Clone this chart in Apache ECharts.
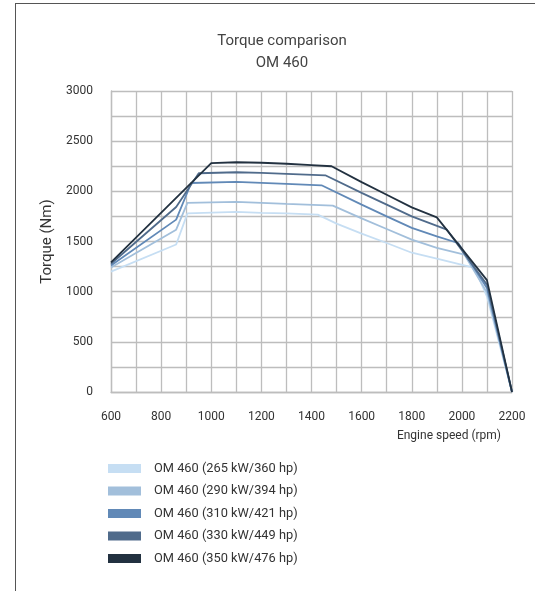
<!DOCTYPE html>
<html>
<head>
<meta charset="utf-8">
<script src="https://cdn.jsdelivr.net/npm/echarts@6/dist/echarts.min.js"></script>
<style>
html,body{margin:0;padding:0;background:#fff;}
#frame{position:absolute;left:15px;top:3px;width:530px;height:600px;border-top:1.5px solid #555;border-left:1.5px solid #555;}
#chart{position:absolute;left:0;top:0;width:535px;height:591px;}
</style>
</head>
<body>
<div id="frame"></div>
<div id="chart"></div>
<script>
const seriesNames = [
  'OM 460 (265 kW/360 hp)',
  'OM 460 (290 kW/394 hp)',
  'OM 460 (310 kW/421 hp)',
  'OM 460 (330 kW/449 hp)',
  'OM 460 (350 kW/476 hp)'
];
const colors = ['#c6def3', '#a2bfdb', '#6189b7', '#506b8b', '#223140'];

const rpm265 = [600, 860, 905, 1100, 1200, 1300, 1425, 1500, 1600, 1700, 1800, 1900, 2050, 2100, 2200];
const nm265  = [1200, 1470, 1780, 1795, 1785, 1780, 1768, 1678, 1579, 1485, 1388, 1329, 1236, 953, 0];

const rpm290 = [600, 860, 905, 1100, 1200, 1300, 1485, 1600, 1700, 1800, 1900, 2010, 2100, 2200];
const nm290  = [1240, 1618, 1884, 1895, 1885, 1875, 1857, 1731, 1625, 1518, 1436, 1369, 993, 0];

const rpm310 = [600, 860, 920, 1100, 1200, 1300, 1440, 1600, 1700, 1800, 1900, 1985, 2100, 2200];
const nm310  = [1260, 1718, 2083, 2095, 2085, 2075, 2060, 1868, 1751, 1636, 1551, 1485, 1037, 0];

const rpm330 = [600, 860, 950, 1100, 1200, 1300, 1455, 1600, 1700, 1800, 1940, 2100, 2200];
const nm330  = [1278, 1844, 2180, 2190, 2183, 2175, 2160, 1985, 1868, 1750, 1618, 1070, 0];

const rpm350 = [600, 1000, 1100, 1200, 1300, 1400, 1480, 1600, 1700, 1800, 1900, 2100, 2200];
const nm350  = [1292, 2282, 2290, 2285, 2275, 2262, 2250, 2092, 1966, 1840, 1740, 1115, 0];

const rpmSets = [rpm265, rpm290, rpm310, rpm330, rpm350];
const nmSets = [nm265, nm290, nm310, nm330, nm350];

const zip = (xs, ys) => xs.map((x, i) => [x, ys[i]]);
const font = 'Roboto, "Liberation Sans", sans-serif';
const gridLine = { show: true, lineStyle: { color: '#bdbdbd', width: 1.3 } };
const plain = v => String(v);

const chart = echarts.init(document.getElementById('chart'));
chart.setOption({
  animation: false,
  title: {
    text: 'Torque comparison\nOM 460',
    left: 277, top: 25, textAlign: 'center',
    textStyle: { fontFamily: font, fontSize: 15, fontWeight: 'normal', color: '#444', lineHeight: 22 }
  },
  legend: {
    orient: 'vertical', left: 108, top: 462, padding: 0,
    itemWidth: 33, itemHeight: 9, itemGap: 9.5, icon: 'rect',
    data: seriesNames,
    textStyle: { fontFamily: font, fontSize: 12.8, color: '#333', padding: [0, 0, 0, 8] }
  },
  grid: { left: 111, right: 23, top: 91, bottom: 199 },
  xAxis: {
    type: 'value', min: 600, max: 2200, interval: 200,
    axisLine: { show: true, lineStyle: { color: '#bdbdbd', width: 1.3 } },
    axisTick: { show: false },
    axisLabel: { margin: 19, fontFamily: font, fontSize: 12, color: '#333', formatter: plain },
    splitLine: gridLine,
    minorTick: { show: false, splitNumber: 2 },
    minorSplitLine: gridLine
  },
  yAxis: {
    type: 'value', min: 0, max: 3000, interval: 500,
    name: 'Torque (Nm)', nameLocation: 'middle', nameGap: 55,
    nameTextStyle: { fontFamily: font, fontSize: 15, color: '#333' },
    axisLine: { show: true, lineStyle: { color: '#bdbdbd', width: 1.3 } },
    axisTick: { show: false },
    axisLabel: { margin: 18, fontFamily: font, fontSize: 12, color: '#333', formatter: plain },
    splitLine: gridLine,
    minorTick: { show: false, splitNumber: 2 },
    minorSplitLine: gridLine
  },
  graphic: [{
    type: 'text', right: 34, top: 430,
    style: { text: 'Engine speed (rpm)', fontFamily: font, fontSize: 12, fill: '#333' }
  }],
  series: seriesNames.map((name, i) => ({
    name, type: 'line', symbol: 'none',
    data: zip(rpmSets[i], nmSets[i]),
    color: colors[i],
    lineStyle: { width: 1.8, color: colors[i] }
  }))
});
</script>
</body>
</html>
